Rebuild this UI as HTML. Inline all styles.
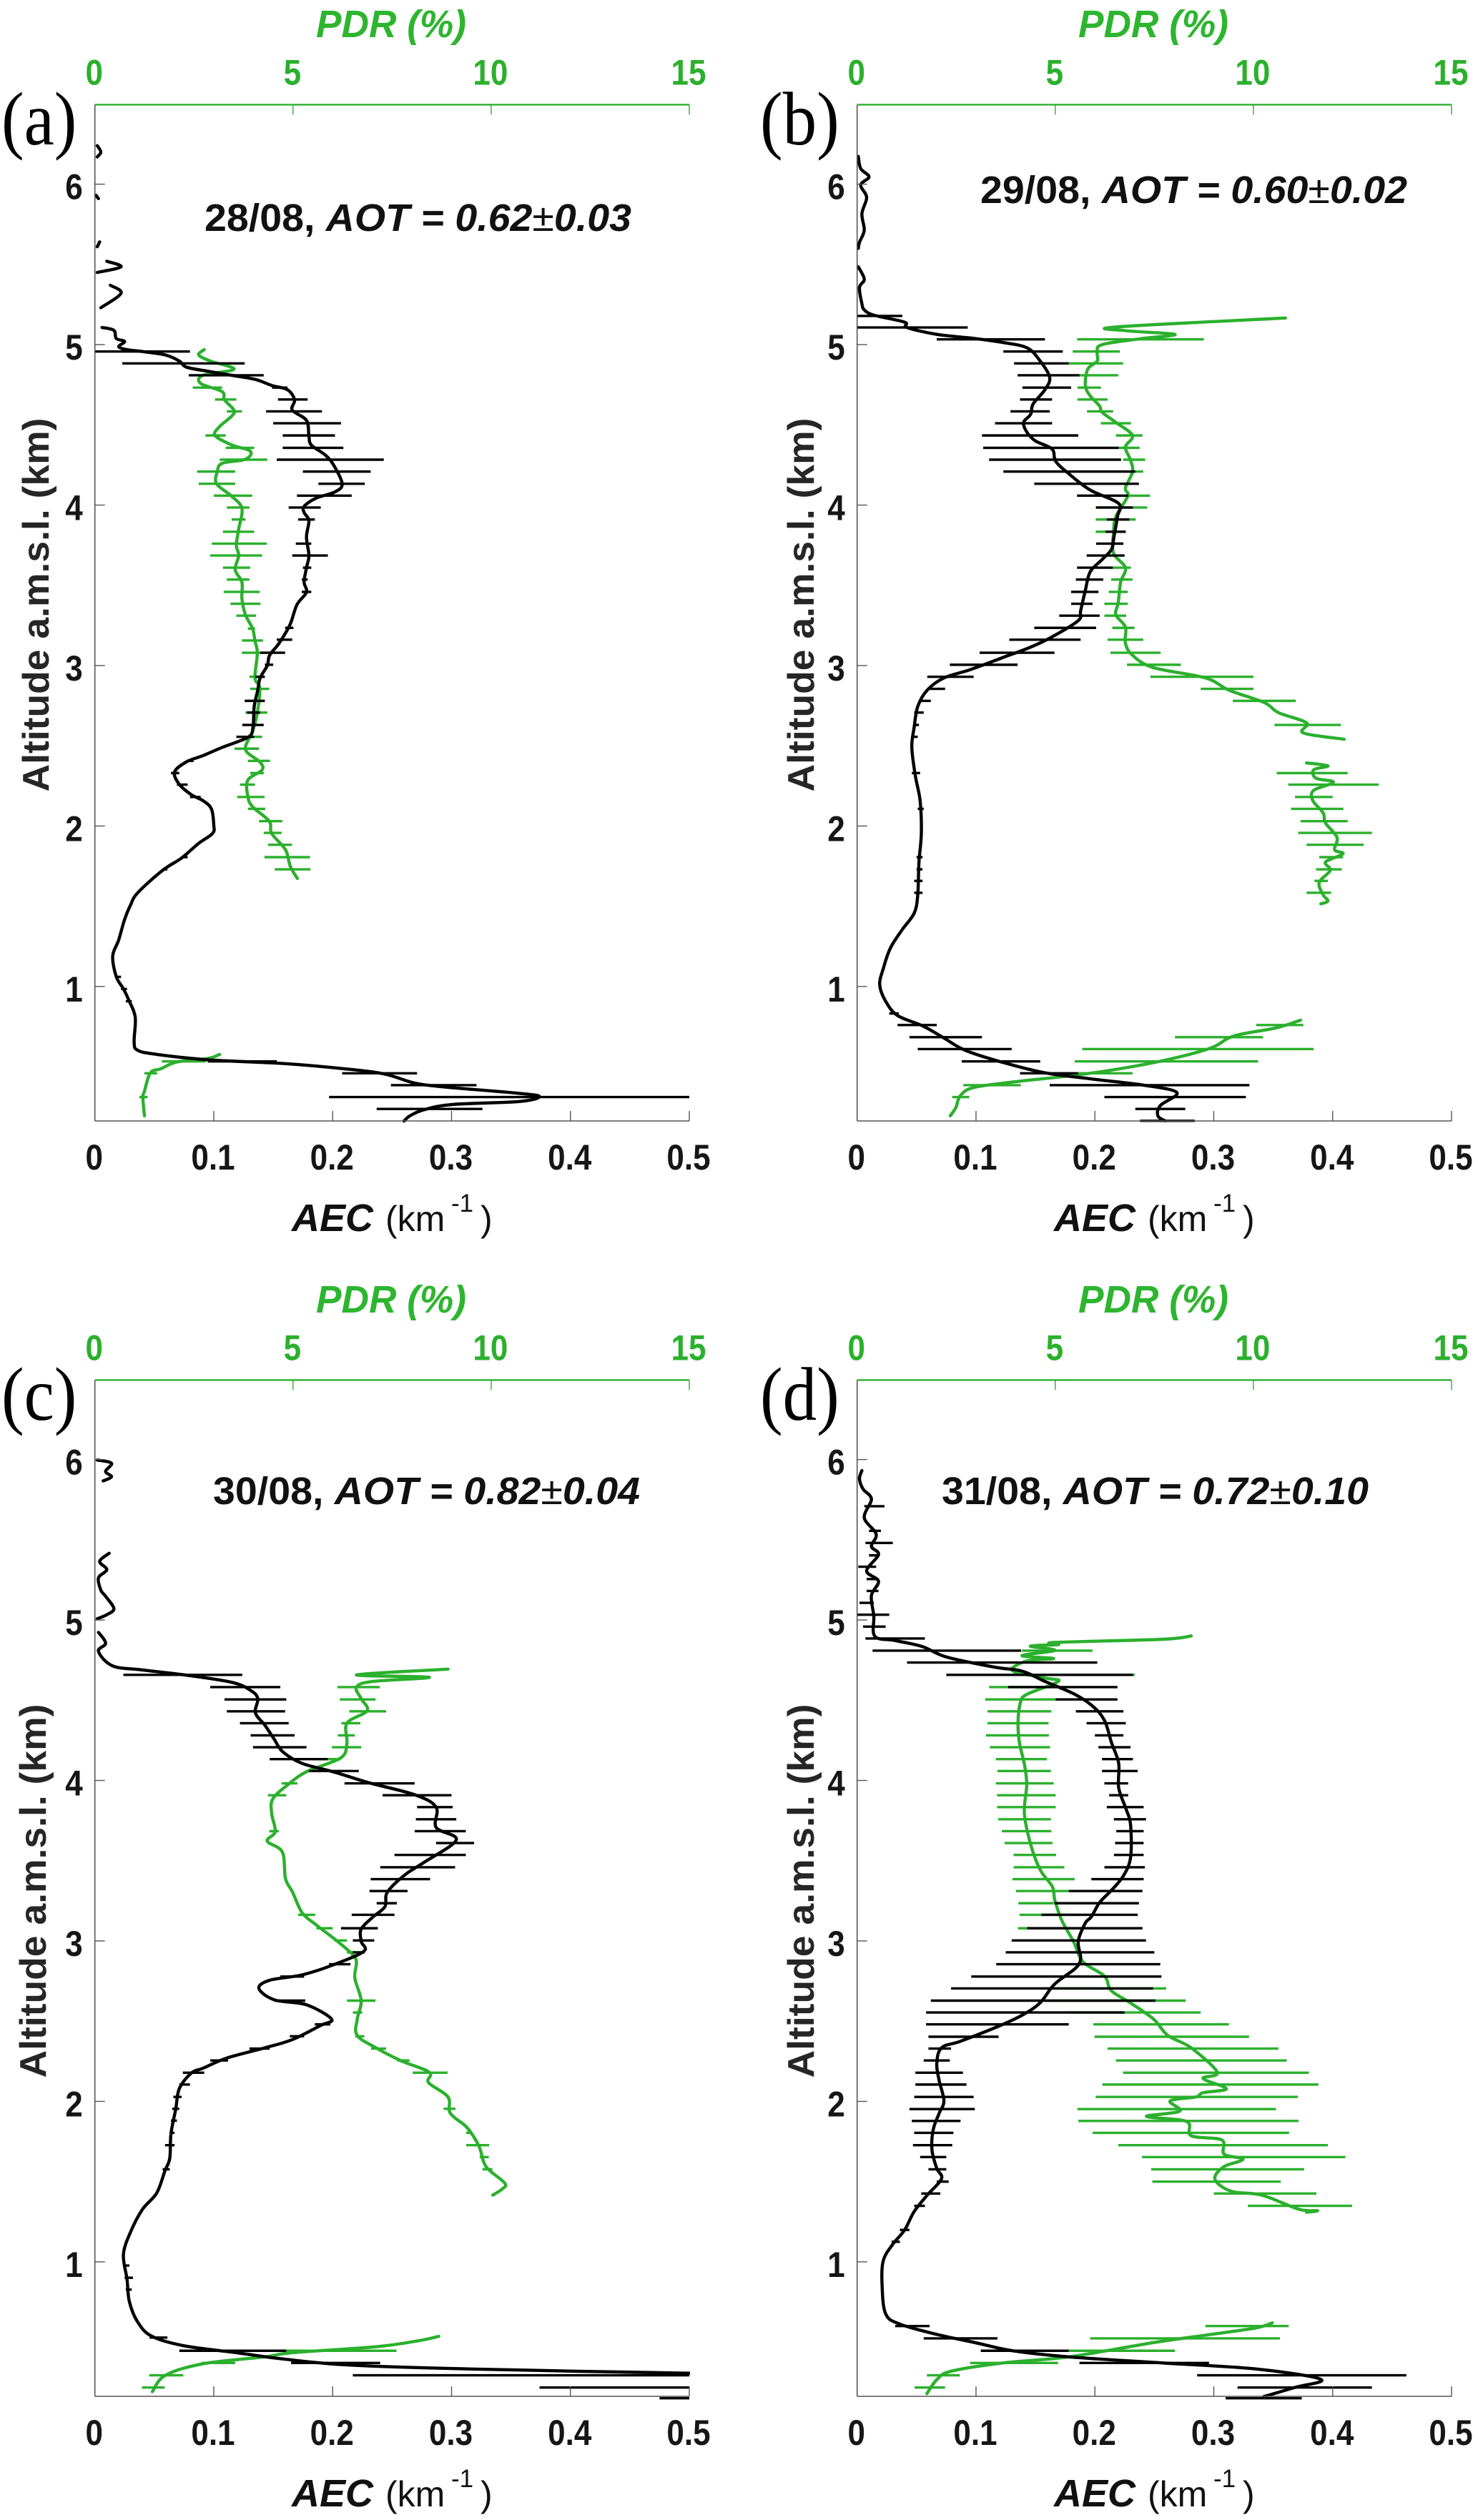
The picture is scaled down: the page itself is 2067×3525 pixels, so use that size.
<!DOCTYPE html>
<html lang="en">
<head>
<meta charset="utf-8">
<title>AEC and PDR vertical profiles</title>
<style>
html,body{margin:0;padding:0;background:#fff;}
svg{display:block;}
text{font-family:"Liberation Sans",sans-serif;}
.panel-letter{font-family:"Liberation Serif",serif;font-size:95px;fill:#000;}
.pdr-title{font-size:54px;font-weight:bold;font-style:italic;fill:#2db52f;}
.y-title{font-size:52px;font-weight:bold;fill:#262626;}
.note{font-size:54px;font-weight:bold;fill:#111;}
.note .it{font-style:italic;}
.note .pm{font-weight:normal;font-style:normal;}
.aec-title{font-size:50px;fill:#111;}
.aec-title .b{font-weight:bold;font-style:italic;font-size:54px;}
.aec-title .sup{font-size:35px;}
</style>
</head>
<body>
<svg id="figure" xmlns="http://www.w3.org/2000/svg" width="2067" height="3525" viewBox="0 0 2067 3525">
  <rect x="0" y="0" width="2067" height="3525" fill="#ffffff"/>

  <g id="panel-a">
    <text class="panel-letter" transform="translate(2,202) scale(1,1.12)">(a)</text>
    <text class="pdr-title" x="442" y="52" textLength="210" lengthAdjust="spacingAndGlyphs">PDR (%)</text>
    <text class="y-title" transform="translate(68,846) rotate(-90)" text-anchor="middle" textLength="523" lengthAdjust="spacingAndGlyphs">Altitude a.m.s.l. (km)</text>
    <text class="note" x="286" y="323" textLength="597" lengthAdjust="spacingAndGlyphs">28/08, <tspan class="it">AOT = 0.62</tspan><tspan class="pm">±</tspan><tspan class="it">0.03</tspan></text>
    <text class="aec-title" y="1722"><tspan class="b" x="408">AEC</tspan><tspan x="539">(km</tspan><tspan class="sup" x="631" dy="-27">-1</tspan><tspan x="672" dy="27">)</tspan></text>
  </g>

  <g id="panel-b">
    <text class="panel-letter" transform="translate(1063,202) scale(1,1.12)">(b)</text>
    <text class="pdr-title" x="1508" y="52" textLength="210" lengthAdjust="spacingAndGlyphs">PDR (%)</text>
    <text class="y-title" transform="translate(1138,846) rotate(-90)" text-anchor="middle" textLength="523" lengthAdjust="spacingAndGlyphs">Altitude a.m.s.l. (km)</text>
    <text class="note" x="1371" y="284" textLength="597" lengthAdjust="spacingAndGlyphs">29/08, <tspan class="it">AOT = 0.60</tspan><tspan class="pm">±</tspan><tspan class="it">0.02</tspan></text>
    <text class="aec-title" y="1722"><tspan class="b" x="1474">AEC</tspan><tspan x="1605">(km</tspan><tspan class="sup" x="1697" dy="-27">-1</tspan><tspan x="1738" dy="27">)</tspan></text>
  </g>

  <g id="panel-c">
    <text class="panel-letter" transform="translate(2,1986) scale(1,1.12)">(c)</text>
    <text class="pdr-title" x="442" y="1836" textLength="210" lengthAdjust="spacingAndGlyphs">PDR (%)</text>
    <text class="y-title" transform="translate(64,2645) rotate(-90)" text-anchor="middle" textLength="523" lengthAdjust="spacingAndGlyphs">Altitude a.m.s.l. (km)</text>
    <text class="note" x="298" y="2104" textLength="597" lengthAdjust="spacingAndGlyphs">30/08, <tspan class="it">AOT = 0.82</tspan><tspan class="pm">±</tspan><tspan class="it">0.04</tspan></text>
    <text class="aec-title" y="3506"><tspan class="b" x="408">AEC</tspan><tspan x="539">(km</tspan><tspan class="sup" x="631" dy="-27">-1</tspan><tspan x="672" dy="27">)</tspan></text>
  </g>

  <g id="panel-d">
    <text class="panel-letter" transform="translate(1063,1986) scale(1,1.12)">(d)</text>
    <text class="pdr-title" x="1508" y="1836" textLength="210" lengthAdjust="spacingAndGlyphs">PDR (%)</text>
    <text class="y-title" transform="translate(1138,2645) rotate(-90)" text-anchor="middle" textLength="523" lengthAdjust="spacingAndGlyphs">Altitude a.m.s.l. (km)</text>
    <text class="note" x="1317" y="2104" textLength="597" lengthAdjust="spacingAndGlyphs">31/08, <tspan class="it">AOT = 0.72</tspan><tspan class="pm">±</tspan><tspan class="it">0.10</tspan></text>
    <text class="aec-title" y="3506"><tspan class="b" x="1474">AEC</tspan><tspan x="1605">(km</tspan><tspan class="sup" x="1697" dy="-27">-1</tspan><tspan x="1738" dy="27">)</tspan></text>
  </g>
</svg>

<script>
// Tick labels
const aecTicks = [0, 0.1, 0.2, 0.3, 0.4, 0.5];
const pdrTicks = [0, 5, 10, 15];
const altTicks = [1, 2, 3, 4, 5, 6];

// Curves: [altitude km, value]; null marks a gap in the profile
const aecA = [[6.24,.002],[6.20,.005],[6.17,.002],null,[5.93,.001],[5.91,.003],null,[5.64,.004],[5.61,.002],null,[5.52,.010],[5.485,.022],[5.45,.002],null,[5.37,.013],[5.32,.022],[5.23,.005],null,
[5.107,.006],[5.089,.016],[5.038,.018],[5.02,.025],[4.987,.020],[4.969,.027],[4.957,.040],[4.936,.059],[4.898,.071],[4.86,.077],[4.834,.095],[4.809,.115],[4.783,.135],[4.745,.149],[4.719,.162],[4.656,.168],[4.592,.166],[4.528,.178],[4.434,.180],[4.375,.182],[4.311,.194],[4.247,.201],[4.133,.208],[4.082,.202],[4.043,.186],[3.992,.176],[3.954,.176],[3.903,.180],[3.801,.178],[3.686,.180],[3.61,.178],[3.52,.176],[3.457,.178],[3.38,.170],[3.253,.164],[3.14,.155],[3.064,.147],[3.0,.145],[2.923,.139],[2.847,.137],[2.745,.134],[2.617,.133],[2.554,.129],[2.49,.107],[2.439,.091],[2.40,.077],[2.337,.067],[2.26,.071],[2.196,.081],[2.158,.091],[2.107,.098],[2.005,.100],[1.954,.099],[1.89,.087],[1.801,.073],[1.724,.057],[1.584,.036],[1.508,.030],[1.418,.025],[1.29,.020],[1.189,.015],[1.061,.018],[.985,.024],[.908,.029],[.806,.034],[.653,.033],[.602,.036],[.577,.052],[.543,.095],[.52,.158],[.487,.21],[.454,.244],[.398,.269],[.372,.297],[.334,.357],[.314,.374],[.283,.357],[.265,.301],[.232,.277],[.194,.265],[.161,.26]];
const pdrA = [[4.969,2.76],[4.936,2.62],[4.898,2.91],[4.847,3.51],[4.809,2.73],[4.758,2.67],[4.707,3.21],[4.656,3.27],[4.592,3.51],[4.554,3.45],[4.49,3.15],[4.434,3.03],[4.375,3.45],[4.337,3.92],[4.286,3.80],[4.26,3.21],[4.209,3.09],[4.133,3.07],[4.056,3.45],[3.98,3.71],[3.852,3.63],[3.75,3.57],[3.686,3.63],[3.597,3.54],[3.52,3.71],[3.418,3.71],[3.316,3.80],[3.23,3.98],[3.153,4.04],[3.077,4.10],[2.923,4.04],[2.86,4.16],[2.707,4.10],[2.59,3.98],[2.477,3.80],[2.40,4.16],[2.35,4.22],[2.286,3.86],[2.184,3.86],[2.12,3.98],[2.03,4.40],[1.954,4.46],[1.852,4.81],[1.75,4.93],[1.673,5.11],null,
[.577,3.15],[.551,2.85],[.53,2.08],[.487,1.66],[.462,1.40],[.347,1.25],[.309,1.21],[.194,1.25]];
const aecB = [[6.173,.001],[6.097,.003],[6.046,.010],[5.995,.003],[5.918,.008],[5.816,.004],[5.714,.006],[5.638,.002],[5.6,.001],null,
[5.485,.001],[5.408,.006],[5.357,.002],[5.255,.004],[5.217,.006],[5.184,.014],[5.14,.040],[5.107,.042],[5.064,.067],[5.038,.099],[5.013,.123],[4.98,.143],[4.898,.154],[4.796,.162],[4.719,.158],[4.63,.148],[4.566,.146],[4.515,.140],[4.452,.143],[4.40,.150],[4.349,.164],[4.273,.167],[4.196,.178],[4.094,.196],[4.01,.220],[3.929,.219],[3.80,.216],[3.724,.214],[3.66,.206],[3.584,.196],[3.469,.192],[3.342,.188],[3.28,.186],[3.179,.164],[3.115,.146],[3.051,.123],[2.974,.095],[2.923,.073],[2.847,.059],[2.745,.051],[2.617,.048],[2.49,.046],[2.311,.049],[2.158,.053],[1.954,.054],[1.776,.052],[1.571,.051],[1.457,.048],[1.355,.038],[1.24,.028],[1.112,.022],[1.01,.019],[.908,.024],[.819,.034],[.755,.055],[.679,.073],[.602,.091],[.526,.123],[.462,.158],[.423,.198],[.385,.241],[.339,.269],[.258,.255],[.194,.253],[.163,.259]];
const pdrB = [[5.166,10.81],[5.11,6.53],[5.087,6.77],[5.064,8.02],[5.038,7.19],[5.0,6.18],[4.949,6.06],[4.898,6.06],[4.847,5.82],[4.745,5.76],[4.681,5.88],[4.617,6.12],[4.579,6.18],[4.515,6.53],[4.434,6.95],[4.362,6.77],[4.286,6.89],[4.209,6.95],[4.107,6.77],[4.056,6.83],[3.929,6.53],[3.827,6.47],[3.70,6.47],[3.61,6.77],[3.52,6.65],[3.393,6.59],[3.316,6.53],[3.24,6.77],[3.14,6.77],[3.064,6.95],[2.987,7.48],[2.923,8.79],[2.847,9.38],[2.77,10.27],[2.707,10.63],[2.643,11.34],[2.58,11.26],[2.541,12.29],null,
[2.393,11.34],[2.375,11.88],[2.35,11.52],[2.298,11.58],[2.273,12.02],[2.222,11.52],[2.158,11.5],[2.082,11.76],[2.018,11.82],[1.929,12.11],[1.852,12.05],[1.827,12.26],[1.776,11.82],[1.724,11.94],[1.648,11.66],[1.571,11.76],[1.533,11.88],[1.515,11.7],null,
[.79,11.19],[.742,10.57],[.691,9.5],[.615,8.91],[.538,7.72],[.474,6.29],[.436,5.11],[.411,4.16],[.372,2.97],[.321,2.61],[.245,2.49],[.194,2.35]];
const aecC = [[5.997,.002],[5.977,.014],[5.926,.009],[5.893,.014],[5.867,.007],null,
[5.416,.012],[5.365,.004],[5.314,.010],[5.263,.003],[5.186,.005],[5.148,.009],[5.071,.016],[5.033,.010],[5.008,.002],null,
[4.923,.003],[4.855,.009],[4.804,.003],[4.714,.015],[4.689,.040],[4.658,.075],[4.612,.115],[4.561,.131],[4.51,.137],[4.421,.135],[4.344,.143],[4.255,.151],[4.179,.158],[4.107,.174],[4.051,.202],[3.987,.230],[3.911,.269],[3.834,.287],[3.707,.287],[3.63,.304],[3.49,.277],[3.413,.261],[3.304,.246],[3.214,.244],[3.15,.234],[3.074,.224],[2.997,.224],[2.934,.226],[2.844,.198],[2.788,.174],[2.755,.147],[2.704,.138],[2.633,.151],[2.602,.178],[2.513,.199],[2.474,.190],[2.385,.166],[2.334,.143],[2.27,.111],[2.207,.091],[2.176,.081],[2.079,.071],[1.952,.068],[1.798,.064],[1.645,.063],[1.569,.059],[1.429,.052],[1.327,.040],[1.186,.030],[1.046,.024],[.893,.027],[.753,.029],[.625,.036],[.536,.048],[.477,.075],[.434,.119],[.395,.158],[.357,.214],[.332,.317],[.306,.5],[.3,.58]];
const pdrC = [[4.694,8.91],[4.658,6.60],[4.643,8.44],[4.617,7.01],[4.582,6.60],[4.51,6.72],[4.434,6.87],[4.357,6.36],[4.23,6.36],[4.14,6.20],[4.056,5.35],[3.974,4.87],[3.885,4.49],[3.796,4.46],[3.681,4.55],[3.622,4.35],[3.554,4.73],[3.388,4.81],[3.304,4.99],[3.176,5.23],[3.099,5.59],[3.01,6.06],[2.921,6.48],[2.87,6.60],[2.768,6.56],[2.628,6.72],[2.513,6.62],[2.411,6.62],[2.329,7.13],[2.253,7.73],[2.181,8.44],[2.117,8.42],[2.028,8.91],[1.926,8.97],[1.837,9.39],[1.722,9.69],[1.594,9.87],[1.492,10.34],[1.454,10.28],[1.416,10.04],null,
[.536,8.68],[.51,8.20],[.472,7.13],[.434,4.99],[.408,4.28],[.365,2.73],[.293,1.78],[.191,1.45]];
const aecD = [[5.931,.004],[5.88,.002],[5.816,.005],[5.753,.012],[5.638,.006],[5.536,.016],[5.459,.012],[5.408,.018],[5.306,.008],[5.242,.018],[5.153,.012],[5.026,.014],[4.898,.015],[4.872,.032],[4.834,.055],[4.77,.075],[4.707,.115],[4.681,.139],[4.617,.158],[4.541,.182],[4.464,.198],[4.375,.208],[4.235,.214],[4.107,.220],[3.954,.220],[3.827,.226],[3.724,.230],[3.52,.230],[3.406,.224],[3.316,.214],[3.24,.204],[3.15,.197],[3.112,.192],[2.997,.186],[2.895,.188],[2.832,.184],[2.73,.166],[2.615,.154],[2.538,.139],[2.462,.117],[2.375,.087],[2.334,.071],[2.235,.067],[2.13,.069],[2.003,.073],[1.926,.069],[1.824,.064],[1.696,.063],[1.582,.067],[1.518,.071],[1.416,.059],[1.314,.048],[1.199,.040],[1.11,.030],[1.008,.022],[.855,.021],[.676,.024],[.612,.036],[.548,.067],[.497,.099],[.446,.131],[.408,.178],[.37,.257],[.332,.336],[.268,.390],[.217,.368],[.16,.342]];
const pdrD = [[4.901,8.43],[4.88,7.72],[4.86,4.99],[4.847,5.08],[4.837,4.37],[4.811,4.99],[4.778,4.16],[4.76,4.96],[4.745,4.28],[4.684,3.92],[4.638,4.75],[4.617,5.08],[4.536,4.28],[4.485,4.12],[4.357,4.06],[4.23,4.10],[4.102,4.22],[3.974,4.28],[3.796,4.22],[3.592,4.39],[3.439,4.63],[3.337,4.93],[3.253,4.99],[3.125,5.17],[2.997,5.46],[2.87,5.70],[2.781,6.24],[2.691,6.41],[2.615,6.89],[2.513,7.48],[2.411,7.84],[2.334,8.43],[2.181,9.09],[2.143,8.73],[2.079,9.32],[2.054,8.73],[2.028,8.55],[2.003,7.90],[1.939,8.14],[1.906,7.30],[1.875,8.31],[1.786,8.43],[1.76,9.20],[1.671,9.26],[1.64,9.74],[1.594,9.26],[1.531,9.03],[1.48,9.14],[1.436,9.50],[1.416,10.21],[1.327,11.16],[1.319,11.62],[1.309,11.34],null,
[.62,10.48],[.587,10.04],[.543,8.79],[.497,7.48],[.408,5.34],[.37,3.68],[.319,2.38],[.268,2.02],[.179,1.76]];

// Error bars: [altitude km, low, high]
const aecBarsA = [[4.957,0,.080],[4.883,.023,.126],[4.809,.079,.142],[4.732,.149,.162],[4.658,.154,.179],[4.584,.144,.191],[4.51,.150,.207],[4.434,.158,.202],[4.357,.158,.209],[4.283,.153,.243],[4.209,.175,.232],[4.133,.188,.227],[4.059,.170,.216],[3.985,.163,.190],[3.91,.171,.185],[3.76,.169,.182],[3.686,.166,.196],[3.61,.175,.182],[3.536,.174,.179],[3.459,.174,.182],[3.235,.160,.167],[3.161,.153,.166],[3.08,.139,.160],[3.005,.143,.150],[2.93,.135,.143],[2.78,.126,.143],[2.707,.128,.139],[2.63,.124,.142],[2.556,.119,.134],[2.406,.077,.083],[2.33,.064,.071],[2.258,.069,.078],[2.181,.080,.089],[1.806,.073,.078],[1.73,.057,.061],[1.06,.017,.022],[.985,.022,.027],[.908,.026,.031],[.533,.095,.153],[.459,.208,.271],[.385,.249,.321],[.311,.197,.5],[.237,.237,.326]];
const pdrBarsA = [[4.732,2.47,3.21],[4.658,3.03,3.57],[4.584,3.33,3.71],[4.434,2.79,3.30],[4.357,3.30,4.02],[4.283,3.15,4.35],[4.209,2.58,3.54],[4.133,2.62,3.54],[4.059,3.0,3.97],[3.985,3.33,3.90],[3.91,3.45,3.80],[3.834,3.23,4.02],[3.76,2.95,4.34],[3.686,2.91,4.22],[3.61,3.23,3.92],[3.536,3.33,3.90],[3.459,3.25,4.16],[3.385,3.42,4.18],[3.311,3.57,4.07],[3.23,3.86,4.04],[3.156,3.71,4.24],[3.08,3.71,4.22],[2.93,3.90,4.24],[2.855,3.92,4.40],[2.707,3.80,4.35],[2.556,3.92,4.22],[2.482,3.52,4.14],[2.406,3.86,4.42],[2.33,3.92,4.26],[2.258,3.66,4.04],[2.181,3.59,4.28],[2.107,3.86,4.30],[2.03,4.14,4.73],[1.957,4.26,4.71],[1.883,4.37,4.97],[1.806,4.28,5.43],[1.73,4.54,5.44],[.533,1.69,2.79],[.459,1.25,1.57],[.311,1.12,1.33]];
const aecBarsB = [[5.179,0,.038],[5.107,0,.093],[5.033,.067,.158],[4.957,.123,.173],[4.883,.132,.178],[4.809,.135,.187],[4.732,.139,.180],[4.658,.137,.164],[4.584,.129,.162],[4.51,.116,.164],[4.434,.105,.186],[4.357,.106,.220],[4.283,.111,.222],[4.209,.123,.234],[4.133,.149,.237],[4.059,.185,.228],[3.985,.201,.232],[3.91,.210,.229],[3.834,.209,.226],[3.76,.201,.224],[3.686,.193,.225],[3.61,.185,.215],[3.536,.184,.207],[3.459,.180,.203],[3.385,.180,.198],[3.311,.170,.204],[3.235,.149,.201],[3.161,.128,.188],[3.08,.103,.166],[3.005,.078,.135],[2.93,.059,.098],[2.855,.059,.074],[2.78,.053,.062],[2.707,.048,.056],[2.63,.048,.052],[2.556,.046,.051],[2.33,.046,.053],[2.107,.051,.056],[1.806,.050,.055],[1.73,.050,.055],[1.658,.048,.055],[1.584,.048,.055],[.832,.027,.035],[.76,.034,.067],[.684,.044,.105],[.61,.051,.130],[.533,.088,.154],[.459,.137,.186],[.385,.162,.330],[.311,.208,.327],[.237,.234,.276],[.163,.238,.284]];
const pdrBarsB = [[5.033,5.55,8.75],[4.957,5.44,6.63],[4.883,5.34,6.71],[4.809,5.58,6.59],[4.732,5.56,6.15],[4.658,5.56,6.32],[4.584,5.80,6.46],[4.51,6.15,6.91],[4.434,6.53,7.20],[4.357,6.59,7.13],[4.283,6.71,7.27],[4.209,7.0,7.22],[4.059,6.83,7.39],[3.985,6.02,7.32],[3.91,6.02,7.03],[3.834,6.02,6.77],[3.76,6.47,6.71],[3.61,6.41,6.91],[3.536,6.41,6.95],[3.459,6.35,6.83],[3.385,6.24,6.83],[3.311,6.24,6.79],[3.235,6.44,7.0],[3.161,6.32,7.22],[3.08,6.39,7.66],[3.005,6.81,8.17],[2.93,7.40,10.0],[2.855,8.67,10.0],[2.78,9.48,11.07],[2.63,10.53,12.21],[2.33,10.59,12.38],[2.258,10.88,13.16],[2.181,11.05,12.0],[2.107,10.95,12.27],[2.03,11.19,12.38],[1.957,11.13,12.99],[1.883,11.34,12.78],[1.806,11.66,12.26],[1.73,11.58,12.23],[1.658,11.54,11.88],[1.584,11.34,11.96],[.76,10.07,11.26],[.684,8.02,10.24],[.61,5.68,11.52],[.533,5.49,10.12],[.459,5.58,6.95],[.385,2.68,4.13],[.311,2.40,2.83]];
const aecBarsC = [[4.658,.024,.124],[4.582,.097,.156],[4.505,.109,.161],[4.431,.111,.160],[4.357,.122,.163],[4.281,.131,.168],[4.207,.133,.178],[4.133,.147,.196],[4.059,.180,.222],[3.982,.210,.269],[3.908,.242,.300],[3.834,.271,.301],[3.758,.270,.304],[3.684,.269,.312],[3.61,.287,.319],[3.536,.252,.312],[3.459,.240,.303],[3.385,.232,.282],[3.311,.231,.263],[3.235,.237,.254],[3.163,.216,.252],[3.079,.207,.238],[3.003,.217,.235],[2.929,.217,.227],[2.855,.197,.215],[2.778,.156,.176],[2.628,.151,.177],[2.48,.185,.198],[2.406,.164,.176],[2.329,.130,.147],[2.255,.097,.112],[2.179,.074,.092],[2.105,.071,.080],[2.028,.066,.073],[1.954,.065,.071],[1.88,.064,.069],[1.804,.063,.067],[1.727,.059,.067],[1.577,.057,.063],[.977,.024,.029],[.901,.025,.032],[.827,.026,.031],[.528,.046,.061],[.446,.071,.161],[.37,.165,.240],[.293,.217,.5],[.217,.374,.5],[.15,.475,.5]];
const pdrBarsC = [[4.582,6.12,7.19],[4.505,6.18,7.08],[4.431,6.42,7.35],[4.357,6.22,6.70],[4.281,6.13,6.56],[4.207,5.98,6.72],[4.133,5.47,6.20],[4.059,5.41,5.88],[3.982,4.71,5.11],[3.908,4.37,4.83],[3.684,4.40,4.64],[3.163,5.13,5.56],[3.079,5.59,6.0],[3.003,6.04,6.36],[2.929,6.36,6.56],[2.628,6.36,7.08],[2.554,6.51,6.75],[2.406,6.57,6.80],[2.329,6.97,7.35],[2.255,7.63,7.94],[2.179,8.02,8.90],[1.954,8.80,9.10],[1.804,9.37,9.51],[1.727,9.37,9.95],[1.653,9.71,9.94],[1.577,9.78,10.03],[.446,4.81,7.61],[.37,2.69,3.54],[.293,1.37,2.23],[.217,1.19,1.76]];
const aecBarsD = [[5.709,.006,.023],[5.556,.010,.020],[5.48,.007,.030],[5.403,.010,.019],[5.332,.001,.016],[5.255,.008,.018],[5.181,.008,.018],[5.107,.002,.014],[5.033,0,.027],[4.959,.005,.024],[4.885,.007,.057],[4.809,.013,.138],[4.735,.042,.202],[4.658,.075,.232],[4.582,.127,.219],[4.505,.167,.219],[4.431,.184,.224],[4.357,.193,.226],[4.281,.200,.224],[4.207,.203,.230],[4.133,.206,.232],[4.059,.206,.236],[3.982,.208,.228],[3.908,.212,.228],[3.834,.210,.241],[3.758,.216,.243],[3.684,.218,.241],[3.61,.217,.241],[3.536,.216,.241],[3.459,.208,.242],[3.385,.197,.241],[3.311,.178,.240],[3.235,.166,.237],[3.163,.155,.236],[3.079,.143,.240],[3.003,.130,.243],[2.929,.125,.250],[2.855,.117,.255],[2.778,.096,.256],[2.704,.079,.249],[2.628,.062,.251],[2.554,.058,.225],[2.48,.058,.178],[2.403,.060,.119],[2.329,.060,.079],[2.255,.056,.078],[2.179,.049,.089],[2.105,.049,.092],[2.028,.048,.098],[1.952,.044,.099],[1.878,.046,.087],[1.804,.048,.081],[1.727,.047,.080],[1.653,.053,.075],[1.577,.060,.075],[1.5,.067,.077],[1.426,.054,.070],[1.349,.048,.057],[1.199,.036,.044],[1.125,.029,.036],[.6,.032,.061],[.523,.056,.118],[.446,.104,.178],[.37,.187,.296],[.293,.286,.462],[.217,.320,.433],[.15,.310,.374]];
const pdrBarsD = [[4.809,4.16,5.94],[4.658,3.92,7.01],[4.582,3.33,5.11],[4.505,3.23,5.01],[4.431,3.29,4.90],[4.357,3.29,4.83],[4.281,3.25,4.84],[4.207,3.35,4.87],[4.133,3.50,4.79],[4.059,3.54,4.89],[3.982,3.50,4.96],[3.908,3.53,5.01],[3.834,3.53,5.01],[3.758,3.56,4.89],[3.684,3.65,4.90],[3.61,3.72,4.93],[3.536,3.95,5.02],[3.459,3.95,5.23],[3.385,3.92,5.49],[3.311,4.01,5.34],[3.235,4.07,4.96],[3.163,4.10,5.58],[3.079,4.06,6.0],[2.704,4.63,7.80],[2.628,4.75,8.29],[2.554,5.34,8.67],[2.48,5.96,9.38],[2.403,5.99,9.89],[2.329,6.32,10.63],[2.255,6.53,10.84],[2.179,6.71,11.40],[2.105,6.19,11.64],[2.028,6.02,11.12],[1.952,5.56,10.57],[1.878,5.58,11.14],[1.804,5.94,10.90],[1.727,6.59,11.88],[1.653,7.19,12.32],[1.577,7.42,11.28],[1.5,7.45,10.69],[1.426,9.0,11.59],[1.349,9.86,12.49],[.6,8.79,10.89],[.523,5.88,10.67],[.446,5.34,8.02],[.37,2.85,5.07],[.293,1.76,2.59],[.217,1.45,2.22]];

const panelList = [
  {id:'a', aec:aecA, pdr:pdrA, aecBars:aecBarsA, pdrBars:pdrBarsA},
  {id:'b', aec:aecB, pdr:pdrB, aecBars:aecBarsB, pdrBars:pdrBarsB},
  {id:'c', aec:aecC, pdr:pdrC, aecBars:aecBarsC, pdrBars:pdrBarsC},
  {id:'d', aec:aecD, pdr:pdrD, aecBars:aecBarsD, pdrBars:pdrBarsD}
];

const NS = 'http://www.w3.org/2000/svg';
const GREEN = '#2bb02d';
const AXIS = '#555555';
const LABEL = '#161616';
const AEC_MAX = 0.5, PDR_MAX = 15, ALT_MIN = 0.162, ALT_MAX = 6.4955;

function make(tag, attrs, parent) {
  const node = document.createElementNS(NS, tag);
  for (const key in attrs) node.setAttribute(key, attrs[key]);
  parent.appendChild(node);
  return node;
}

// Catmull-Rom smoothing through one unbroken run of screen points
function smoothRun(run) {
  let d = 'M' + run[0][0].toFixed(1) + ' ' + run[0][1].toFixed(1);
  for (let i = 0; i < run.length - 1; i++) {
    const p0 = run[Math.max(i - 1, 0)], p1 = run[i], p2 = run[i + 1], p3 = run[Math.min(i + 2, run.length - 1)];
    const c1x = p1[0] + (p2[0] - p0[0]) / 6, c1y = p1[1] + (p2[1] - p0[1]) / 6;
    const c2x = p2[0] - (p3[0] - p1[0]) / 6, c2y = p2[1] - (p3[1] - p1[1]) / 6;
    d += 'C' + c1x.toFixed(1) + ' ' + c1y.toFixed(1) + ' ' + c2x.toFixed(1) + ' ' + c2y.toFixed(1) + ' ' + p2[0].toFixed(1) + ' ' + p2[1].toFixed(1);
  }
  return d;
}

const frames = {
  a:{left:132.7, right:964, top:146.4, bottom:1568},
  b:{left:1198.7, right:2030, top:146.4, bottom:1568},
  c:{left:132.7, right:964, top:1930.4, bottom:3352},
  d:{left:1198.7, right:2030, top:1930.4, bottom:3352}
};

function drawPanel(panel) {
  const f = frames[panel.id];
  const root = document.getElementById('panel-' + panel.id);
  const xAec = v => f.left + (v / AEC_MAX) * (f.right - f.left);
  const xPdr = v => f.left + (v / PDR_MAX) * (f.right - f.left);
  const yAlt = a => f.bottom - ((a - ALT_MIN) / (ALT_MAX - ALT_MIN)) * (f.bottom - f.top);

  const clipId = 'plot-clip-' + panel.id;
  const defs = make('defs', {}, root);
  const clip = make('clipPath', {id: clipId}, defs);
  make('rect', {x: f.left, y: f.top, width: f.right - f.left + 1, height: f.bottom - f.top + 5}, clip);

  const plot = make('g', {'clip-path': 'url(#' + clipId + ')'}, root);
  
  

  function drawBars(bars, xFn, color, name) {
    const g = make('g', {stroke: color, 'stroke-width': 3.4}, plot);
    
    
    bars.forEach(function (b) {
      const line = make('line', {x1: xFn(b[1]), x2: xFn(b[2]), y1: yAlt(b[0]), y2: yAlt(b[0])}, g);
      
      
    });
  }
  function drawCurve(points, xFn, color, name) {
    let d = '', run = [];
    points.concat([null]).forEach(function (p) {
      if (p === null) {
        if (run.length) d += smoothRun(run);
        run = [];
        return;
      }
      run.push([xFn(p[1]), yAlt(p[0])]);
    });
    const path = make('path', {d: d, fill: 'none', stroke: color, 'stroke-width': 4.4, 'stroke-linejoin': 'round', 'stroke-linecap': 'round'}, plot);
    
    
  }
  drawBars(panel.pdrBars, xPdr, GREEN, 'pdr');
  drawCurve(panel.pdr, xPdr, GREEN, 'pdr');
  drawBars(panel.aecBars, xAec, '#000000', 'aec');
  drawCurve(panel.aec, xAec, '#000000', 'aec');

  const axes = make('g', {}, root);
  
  
  make('line', {x1: f.left, x2: f.left, y1: f.top, y2: f.bottom, stroke: AXIS, 'stroke-width': 1.6}, axes);
  make('line', {x1: f.left, x2: f.right, y1: f.bottom, y2: f.bottom, stroke: AXIS, 'stroke-width': 1.6}, axes);
  make('line', {x1: f.left, x2: f.right, y1: f.top, y2: f.top, stroke: GREEN, 'stroke-width': 2.4}, axes);

  function label(text, x, y, anchor, color, name) {
    const t = make('text', {transform: 'translate(' + x + ',' + y + ') scale(1,1.13)', 'text-anchor': anchor, 'font-size': 44, 'font-weight': 'bold', fill: color}, axes);
    t.textContent = String(text);
    
    
  }
  aecTicks.forEach(function (v) {
    const x = xAec(v);
    if (v > 0) make('line', {x1: x, x2: x, y1: f.bottom, y2: f.bottom - 14, stroke: AXIS, 'stroke-width': 1.4}, axes);
    label(v, x - 1, f.bottom + 68, 'middle', LABEL, 'x-tick-label-aec');
  });
  pdrTicks.forEach(function (v) {
    const x = xPdr(v);
    if (v > 0) make('line', {x1: x, x2: x, y1: f.top, y2: f.top + 14, stroke: GREEN, 'stroke-width': 1.4}, axes);
    label(v, x - 1, f.top - 28, 'middle', GREEN, 'x-tick-label-pdr');
  });
  altTicks.forEach(function (v) {
    const y = yAlt(v);
    make('line', {x1: f.left, x2: f.left + 14, y1: y, y2: y, stroke: AXIS, 'stroke-width': 1.4}, axes);
    label(v, f.left - 17, y + 21, 'end', LABEL, 'y-tick-label');
  });
}
panelList.forEach(drawPanel);
</script>
</body>
</html>
